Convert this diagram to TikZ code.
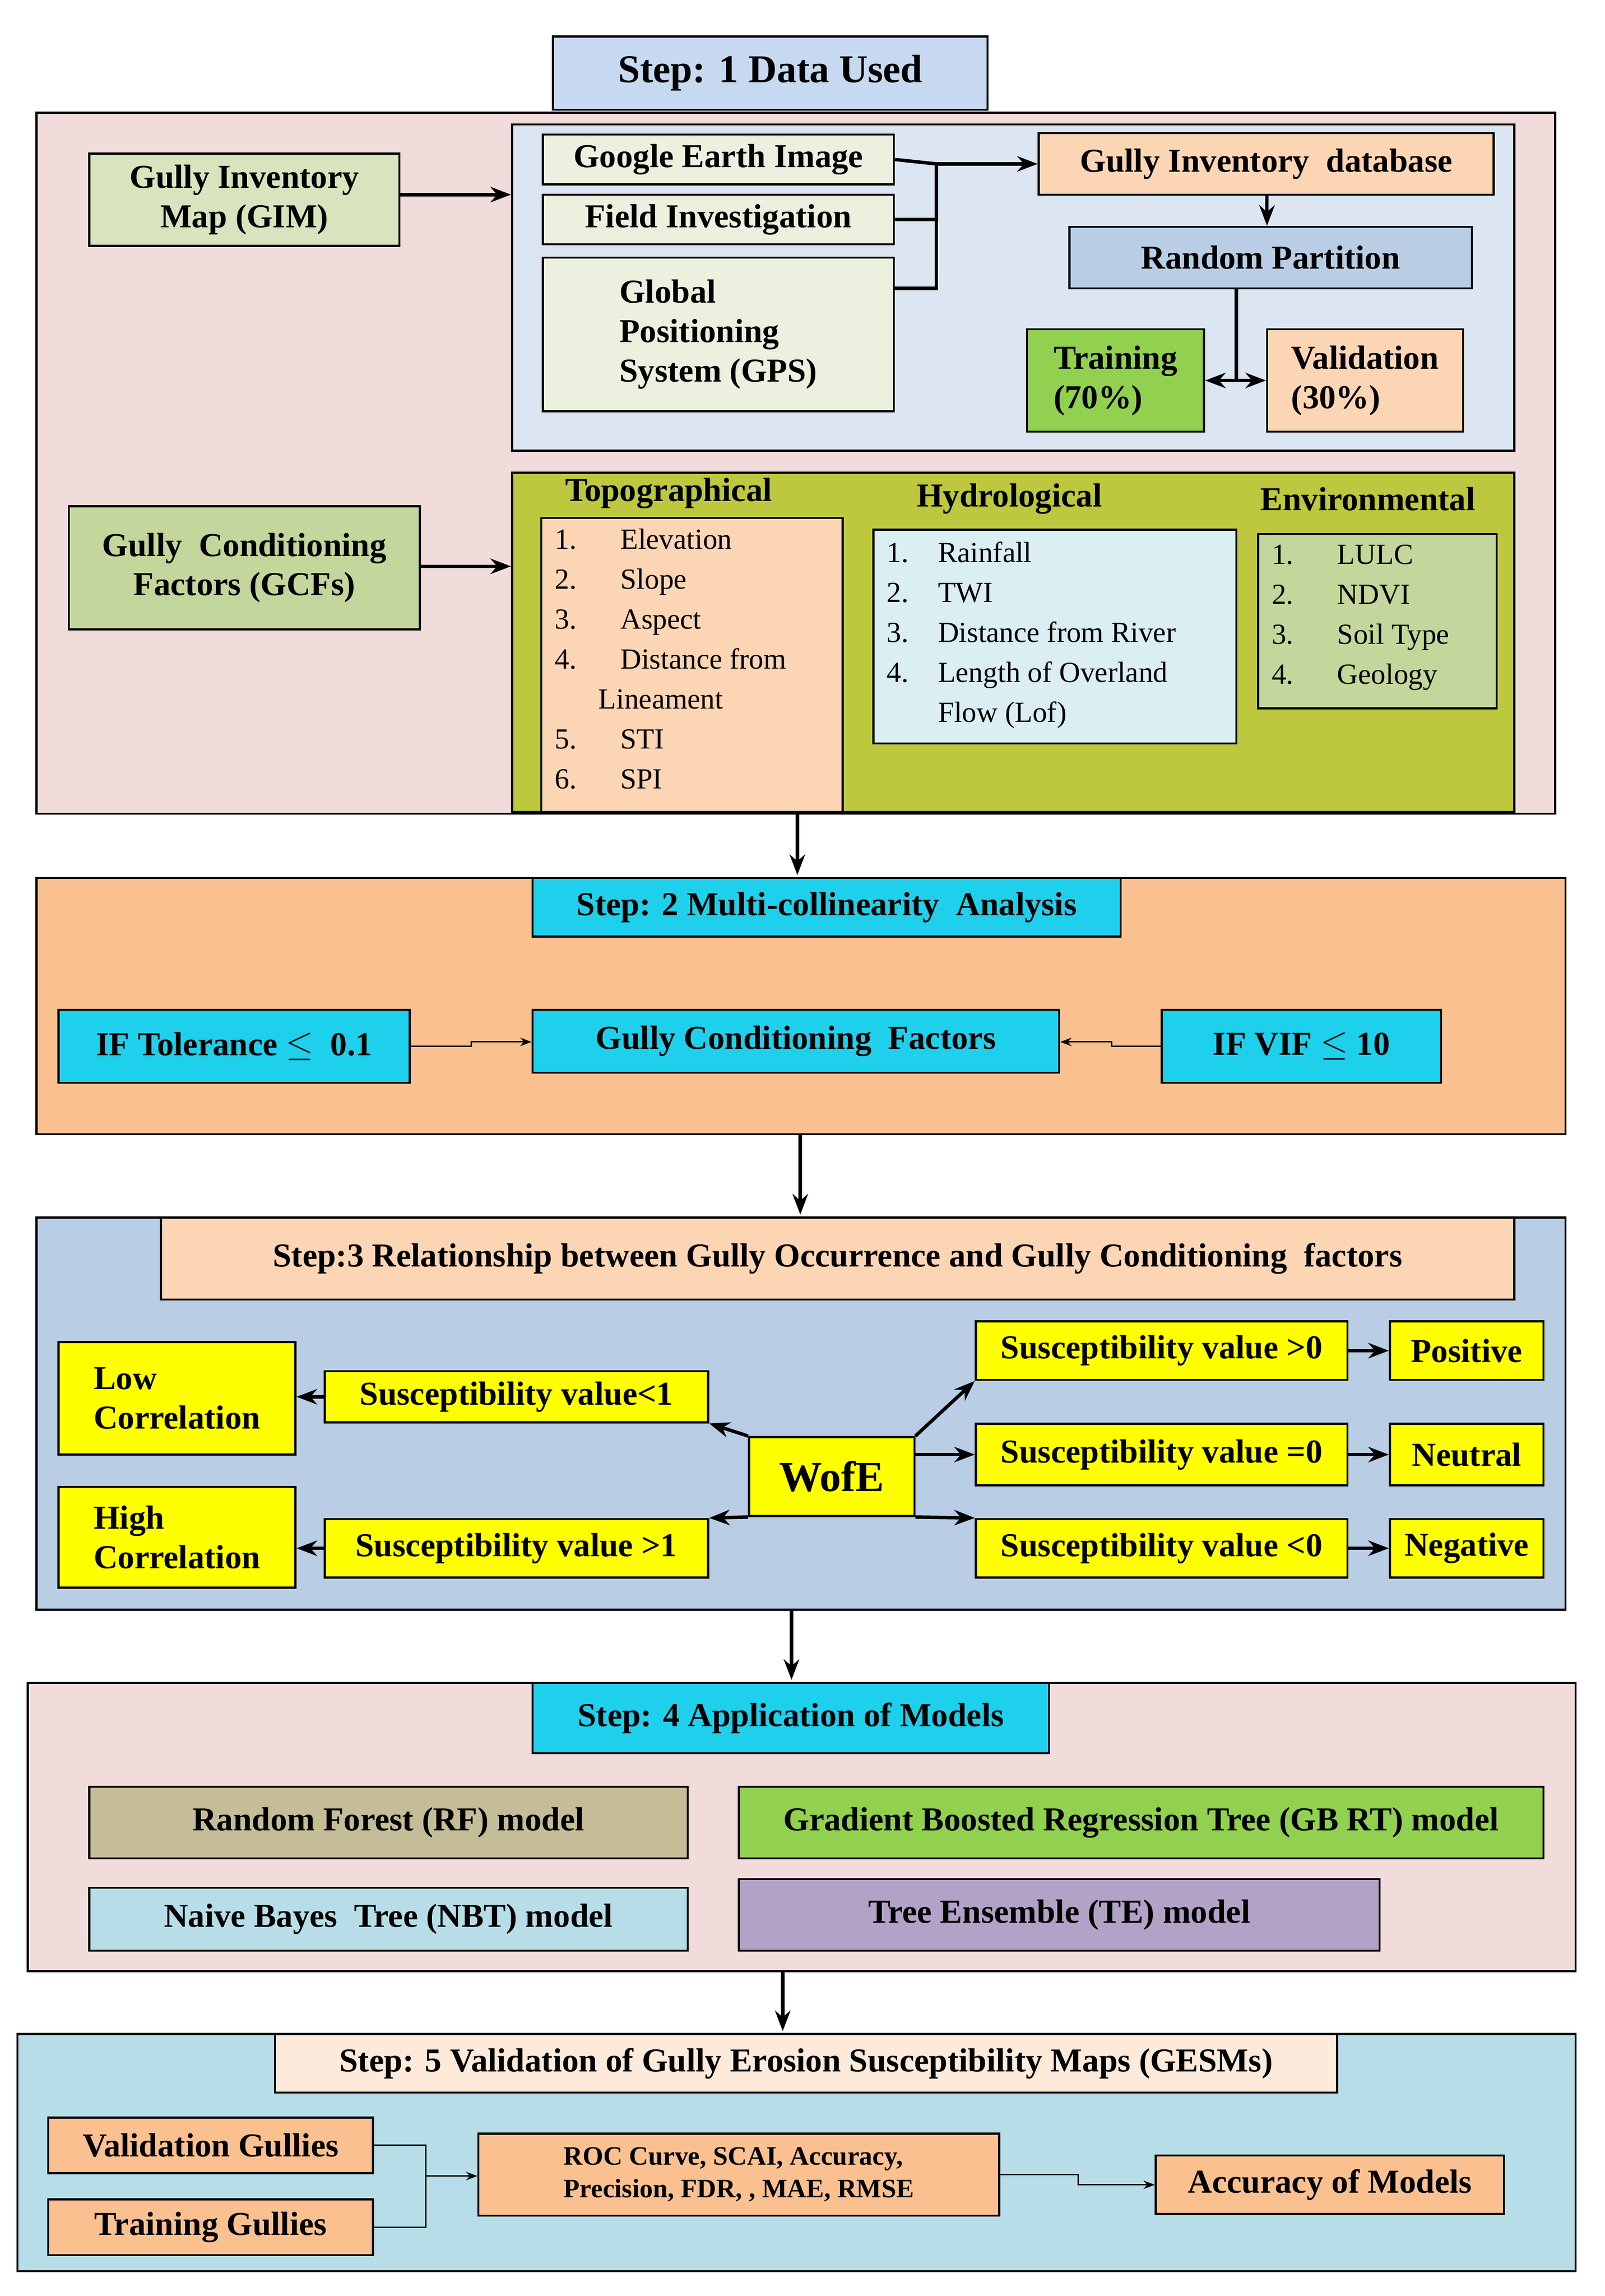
\documentclass[tikz,border=0pt]{standalone}
\usepackage{fontspec}
\setmainfont{Liberation Serif}
\usetikzlibrary{arrows.meta,fit}
\definecolor{pinkbg}{RGB}{242,220,219}
\definecolor{bluebg}{RGB}{220,230,242}
\definecolor{lgreen}{RGB}{215,228,189}
\definecolor{paleg}{RGB}{235,241,222}
\definecolor{peach}{RGB}{252,213,181}
\definecolor{steel}{RGB}{185,205,229}
\definecolor{brgreen}{RGB}{146,208,80}
\definecolor{olive}{RGB}{190,200,62}
\definecolor{sage}{RGB}{195,214,155}
\definecolor{aqua}{RGB}{218,238,243}
\definecolor{orng}{RGB}{250,192,144}
\definecolor{cyanb}{RGB}{30,208,235}
\definecolor{yell}{RGB}{255,255,0}
\definecolor{khaki}{RGB}{196,189,151}
\definecolor{lblue}{RGB}{183,222,232}
\definecolor{lilac}{RGB}{179,162,199}
\definecolor{cream}{RGB}{253,234,218}
\definecolor{stepblue}{RGB}{198,217,240}
\begin{document}
\begin{tikzpicture}[x=0.03cm,y=-0.03cm,>=Stealth,
  panel/.style={draw=black,line width=1.2pt,inner sep=0pt},
  box/.style={draw=black,line width=1.2pt,inner sep=0pt},
  lbl/.style={inner sep=0pt,align=center,font=\fontsize{19.5}{23}\selectfont\bfseries},
  lbll/.style={lbl,align=left},
  big/.style={lbl,font=\fontsize{23}{26}\selectfont\bfseries},
  small/.style={lbll,font=\fontsize{15.5}{19}\selectfont\bfseries},
  list/.style={anchor=north west,align=left,inner sep=0pt,
    font=\fontsize{17}{23.3}\selectfont},
  hd/.style={font=\fontsize{19.5}{22}\selectfont\bfseries},
  arr/.style={->,line width=2pt},
  thin/.style={->,line width=0.8pt}]
\useasboundingbox (0,0) rectangle (1097,1569);

% step 1
\node[panel,fill=pinkbg,fit={(25,77) (1063,556)}] (p1) {};
\node[box,fill=stepblue,fit={(378,25) (675,75)},label={[big]center:Step: 1 Data Used}] (s1) {};
\node[box,fill=lgreen,fit={(61,105) (273,168)},label={[lbl]center:{Gully Inventory\\Map (GIM)}}] (gim) {};
\node[panel,fill=bluebg,fit={(350,85) (1035,308)}] (inner) {};
\node[box,fill=paleg,fit={(371,92) (611,126)},label={[lbl]center:Google Earth Image}] (gei) {};
\node[box,fill=paleg,fit={(371,133) (611,167)},label={[lbl]center:Field Investigation}] (fi) {};
\node[box,fill=paleg,fit={(371,176) (611,281)},label={[lbll]center:{Global\\Positioning\\System (GPS)}}] (gps) {};
\node[box,fill=peach,fit={(710,91) (1021,133)},label={[lbl]center:Gully Inventory\ \ database}] (gid) {};
\node[box,fill=steel,fit={(731,155) (1006,197)},label={[lbl]center:Random Partition}] (rp) {};
\node[box,fill=brgreen,fit={(702,225) (823,295)},label={[lbll]center:{Training\\(70\%)}}] (tr) {};
\node[box,fill=peach,fit={(866,225) (1000,295)},label={[lbll]center:{Validation\\(30\%)}}] (va) {};
\coordinate (br) at (640,112);
\draw[line width=2pt] (gei.east) -- (br) |- (fi.east);
\draw[line width=2pt] (640,146) |- (gps.east |- 0,197);
\draw[arr] (br) -- (gid.west |- br);
\draw[arr] (gid.south -| 866,0) -- (rp.north -| 866,0);
\coordinate (sp) at (845,260);
\draw[line width=2pt] (rp.south -| sp) -- (sp);
\draw[arr] (sp) -- (tr.east |- sp);
\draw[arr] (sp) -- (va.west |- sp);
\draw[arr] (gim.east |- 0,133) -- (inner.west |- 0,133);

\node[panel,fill=olive,fit={(350,323) (1035,555)}] (fac) {};
\node[box,fill=sage,fit={(47,346) (287,430)},label={[lbl]center:{Gully\ \ Conditioning\\Factors (GCFs)}}] (gcf) {};
\draw[arr] (gcf.east |- 0,387) -- (fac.west |- 0,387);
\node[hd] at (457,337) {Topographical};
\node[panel,fill=peach,fit={(370,354) (576,555)}] (topo) {};
\node[list] at (379,361) {1.\quad\ \ Elevation\\2.\quad\ \ Slope\\3.\quad\ \ Aspect\\4.\quad\ \ Distance from\\\quad\ \ Lineament\\5.\quad\ \ STI\\6.\quad\ \ SPI};
\node[hd] at (690,341) {Hydrological};
\node[panel,fill=aqua,fit={(597,362) (845,508)}] (hydro) {};
\node[list] at (606,370) {1.\quad Rainfall\\2.\quad TWI\\3.\quad Distance from River\\4.\quad Length of Overland\\\phantom{4.}\quad Flow (Lof)};
\node[hd] at (935,341) {Environmental};
\node[panel,fill=sage,fit={(860,365) (1023,484)}] (env) {};
\node[list] at (869,372) {1.\quad\ \ LULC\\2.\quad\ \ NDVI\\3.\quad\ \ Soil Type\\4.\quad\ \ Geology};

% step 2
\draw[arr] (545,556) -- (545,598);
\node[panel,fill=orng,fit={(25,600) (1070,775)}] (p2) {};
\node[box,fill=cyanb,fit={(364,600) (766,640)},label={[lbl]center:Step: 2 Multi-collinearity\ \ Analysis}] (s2) {};
\node[box,fill=cyanb,fit={(40,690) (280,740)},label={[lbl]center:IF Tolerance $\leq$\ \ 0.1}] (tol) {};
\node[box,fill=cyanb,fit={(364,690) (724,733)},label={[lbl]center:Gully Conditioning\ \ Factors}] (gcf2) {};
\node[box,fill=cyanb,fit={(794,690) (985,740)},label={[lbl]center:IF VIF $\leq$ 10}] (vif) {};
\draw[thin] (tol.east) -- (322,715) |- (gcf2.west |- 0,712);
\draw[thin] (vif.west) -- (760,715) |- (gcf2.east |- 0,712);

% step 3
\draw[arr] (547,775) -- (547,830);
\node[panel,fill=steel,fit={(25,832) (1070,1100)}] (p3) {};
\node[box,fill=peach,fit={(110,832) (1035,888)},label={[lbl]center:Step:3 Relationship between Gully Occurrence and Gully Conditioning\ \ factors}] (s3) {};
\node[box,fill=yell,fit={(40,917) (202,994)},label={[lbll]center:{Low\\Correlation}}] (low) {};
\node[box,fill=yell,fit={(40,1016) (202,1085)},label={[lbll]center:{High\\Correlation}}] (high) {};
\node[box,fill=yell,fit={(222,937) (484,972)},label={[lbl]center:Susceptibility value<1}] (sl1) {};
\node[box,fill=yell,fit={(222,1038) (484,1078)},label={[lbl]center:Susceptibility value >1}] (sg1) {};
\node[box,fill=yell,fit={(512,982) (625,1036)},label={[big,font=\fontsize{25}{27}\selectfont\bfseries]center:WofE}] (wofe) {};
\node[box,fill=yell,fit={(667,903) (921,943)},label={[lbl]center:Susceptibility value >0}] (sg0) {};
\node[box,fill=yell,fit={(667,973) (921,1015)},label={[lbl]center:Susceptibility value =0}] (se0) {};
\node[box,fill=yell,fit={(667,1038) (921,1078)},label={[lbl]center:Susceptibility value <0}] (sl0) {};
\node[box,fill=yell,fit={(950,903) (1055,943)},label={[lbl]center:Positive}] (pos) {};
\node[box,fill=yell,fit={(950,973) (1055,1015)},label={[lbl]center:Neutral}] (neu) {};
\node[box,fill=yell,fit={(950,1038) (1055,1078)},label={[lbl]center:Negative}] (neg) {};
\draw[arr] (wofe.north west) -- (sl1.south east);
\draw[arr] (wofe.south west) -- (sg1.north east);
\draw[arr] (wofe.north east) -- (sg0.south west);
\draw[arr] (wofe.east |- se0) -- (se0.west);
\draw[arr] (wofe.south east) -- (sl0.north west);
\draw[arr] (sl1.west) -- (low.east |- sl1);
\draw[arr] (sg1.west) -- (high.east |- sg1);
\draw[arr] (sg0) -- (pos);
\draw[arr] (se0) -- (neu);
\draw[arr] (sl0) -- (neg);

% step 4
\draw[arr] (541,1100) -- (541,1148);
\node[panel,fill=pinkbg,fit={(19,1150) (1077,1347)}] (p4) {};
\node[box,fill=cyanb,fit={(364,1150) (717,1198)},label={[lbl]center:Step: 4 Application of Models}] (s4) {};
\node[box,fill=khaki,fit={(61,1221) (470,1270)},label={[lbl]center:Random Forest (RF) model}] (rf) {};
\node[box,fill=brgreen,fit={(505,1221) (1055,1270)},label={[lbl]center:Gradient Boosted Regression Tree (GB RT) model}] (gb) {};
\node[box,fill=lblue,fit={(61,1290) (470,1333)},label={[lbl]center:Naive Bayes\ \ Tree (NBT) model}] (nbt) {};
\node[box,fill=lilac,fit={(505,1284) (943,1333)},label={[lbl]center:Tree Ensemble (TE) model}] (te) {};

% step 5
\draw[arr] (535,1347) -- (535,1388);
\node[panel,fill=lblue,fit={(12,1390) (1077,1552)}] (p5) {};
\node[box,fill=cream,fit={(188,1390) (914,1430)},label={[lbl]center:Step: 5 Validation of Gully Erosion Susceptibility Maps (GESMs)}] (s5) {};
\node[box,fill=orng,fit={(33,1447) (255,1485)},label={[lbl]center:Validation Gullies}] (vg) {};
\node[box,fill=orng,fit={(33,1503) (255,1541)},label={[lbl]center:Training Gullies}] (tg) {};
\node[box,fill=orng,fit={(327,1458) (683,1514)},label={[small]center:{ROC Curve, SCAI, Accuracy,\\Precision, FDR, , MAE, RMSE}}] (roc) {};
\node[box,fill=orng,fit={(790,1473) (1028,1513)},label={[lbl]center:Accuracy of Models}] (acc) {};
\draw[line width=0.8pt] (vg.east) -- (291,1466) |- (tg.east);
\draw[thin] (291,1487) -- (roc.west |- 0,1487);
\draw[thin] (roc.east) -- (737,1486) |- (acc.west |- 0,1493);
\end{tikzpicture}
\end{document}
